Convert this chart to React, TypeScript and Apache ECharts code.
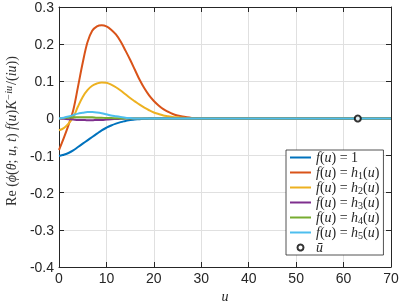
import React, { useEffect, useRef } from "react";
import * as echarts from "echarts";

const uValues = [0,1,2,3,4,5,6,7,8,9,10,11,12,13,14,15,16,17,18,19,20,21,22,23,24,25,26,27,28,29,30,70];

const seriesF1 = [-0.101,-0.098,-0.093,-0.086,-0.077,-0.068,-0.059,-0.05,-0.041,-0.032,-0.025,-0.019,-0.014,-0.01,-0.007,-0.004,-0.003,-0.002,-0.001,-0.0005,0,0,0,0,0,0,0,0,0,0,0,0];
const seriesH1 = [-0.085,-0.053,-0.018,0.022,0.085,0.15,0.205,0.236,0.248,0.251,0.248,0.239,0.226,0.207,0.183,0.158,0.131,0.104,0.081,0.062,0.047,0.035,0.025,0.018,0.012,0.008,0.005,0.003,0.0015,0.0005,0,0];
const seriesH2 = [-0.032,-0.026,-0.014,0.003,0.032,0.058,0.076,0.088,0.094,0.097,0.096,0.091,0.084,0.075,0.065,0.055,0.046,0.037,0.029,0.022,0.016,0.012,0.008,0.006,0.004,0.003,0.002,0.001,0.0005,0,0,0];
const seriesH3 = [0,-0.001,-0.002,-0.003,-0.004,-0.004,-0.005,-0.005,-0.004,-0.004,-0.003,-0.002,-0.0015,-0.001,-0.0005,0,0,0,0,0,0,0,0,0,0,0,0,0,0,0,0,0];
const seriesH4 = [0,0.001,0.002,0.003,0.003,0.003,0.003,0.003,0.002,0.002,0.001,0.001,0.0005,0,0,0,0,0,0,0,0,0,0,0,0,0,0,0,0,0,0,0];
const seriesH5 = [0,0.002,0.005,0.009,0.013,0.015,0.017,0.017,0.016,0.014,0.011,0.008,0.006,0.004,0.002,0.001,0,0,0,0,0,0,0,0,0,0,0,0,0,0,0,0];

const uBar = [63];
const uBarValue = [0];

const seriesNames = ["f(u) = 1", "f(u) = h1(u)", "f(u) = h2(u)", "f(u) = h3(u)", "f(u) = h4(u)", "f(u) = h5(u)"];
const seriesValues = [seriesF1, seriesH1, seriesH2, seriesH3, seriesH4, seriesH5];
const colors = ["#0072BD", "#D95319", "#EDB120", "#7E2F8E", "#77AC30", "#4DBEEE"];
const markerName = "ū";

const xTicks = { min: 0, max: 70, interval: 10 };
const yTicks = { min: -0.4, max: 0.3, interval: 0.1 };

const AX = "#262626";

function legendLabel(name: string): string {
  if (name === "f(u) = 1") return "{i|f}{r|(}{i|u}{r|) = 1}";
  const m = name.match(/h(\d)/);
  if (m) return "{i|f}{r|(}{i|u}{r|) = }{i|h}{s|" + m[1] + "}{r|(}{i|u}{r|)}";
  if (name === markerName) return "{i|ū}";
  return name;
}

export default function App() {
  const ref = useRef<HTMLDivElement>(null);
  useEffect(() => {
    if (!ref.current) return;
    const chart = echarts.init(ref.current, undefined, { renderer: "svg" });
    const lineSeries = seriesValues.map((vals, k) => ({
      name: seriesNames[k],
      type: "line",
      data: uValues.map((u, i) => [u, vals[i]]),
      symbol: "none",
      smooth: 0.35,
      lineStyle: { width: 2, color: colors[k] },
      itemStyle: { color: colors[k] },
      z: 2 + k,
    }));
    const tickFmt = (v: number) => String(Math.round(v * 10) / 10);
    const serifRich = {
      i: { fontFamily: "Liberation Serif", fontStyle: "italic", fontSize: 14, color: AX, lineHeight: 15 },
      r: { fontFamily: "Liberation Serif", fontStyle: "normal", fontSize: 14, color: AX, lineHeight: 15 },
      s: { fontFamily: "Liberation Serif", fontStyle: "normal", fontSize: 10, color: AX, lineHeight: 10, verticalAlign: "bottom", padding: [4, 0, 0, 0] },
    };
    const legendData = [
      ...seriesNames.map((n, k) => ({
        name: n,
        icon: "path://M0,0L21,0L21,2L0,2Z",
        itemStyle: { color: colors[k], borderWidth: 0 },
      })),
      { name: markerName, icon: "circle", itemStyle: { color: "#fff", borderColor: "#000", borderWidth: 2 } },
    ];
    chart.setOption({
      animation: false,
      grid: { left: 59, right: 8, top: 7, bottom: 36, containLabel: false, outerBoundsMode: "none" },
      xAxis: [
        {
          type: "value",
          min: xTicks.min, max: xTicks.max, interval: xTicks.interval,
          position: "bottom",
          name: "u",
          nameLocation: "middle",
          nameGap: 18,
          nameTextStyle: { fontFamily: "Liberation Serif", fontStyle: "italic", fontSize: 14, color: AX, verticalAlign: "top" },
          axisLine: { show: true, onZero: false, lineStyle: { color: AX, width: 1 } },
          axisTick: { show: true, inside: true, length: 5, lineStyle: { color: AX } },
          axisLabel: { color: AX, fontFamily: "Liberation Sans", fontSize: 14, margin: 4 },
          splitLine: { show: true, lineStyle: { color: "#e0e0e0", width: 1 } },
        },
        {
          type: "value",
          min: xTicks.min, max: xTicks.max, interval: xTicks.interval,
          position: "top",
          axisLine: { show: true, onZero: false, lineStyle: { color: AX, width: 1 } },
          axisTick: { show: true, inside: true, length: 5, lineStyle: { color: AX } },
          axisLabel: { show: false },
          splitLine: { show: false },
        },
      ],
      yAxis: [
        {
          type: "value",
          min: yTicks.min, max: yTicks.max, interval: yTicks.interval,
          position: "left",
          name: "{r|Re }{r|(}{i|ϕ}{r|(}{i|θ}{r|; }{i|u}{r|, }{i|t}{r|) }{i|f}{r|(}{i|u}{r|)}{i|K}{sup|−iu}{r|/(}{i|iu}{r|))}",
          nameLocation: "middle",
          nameGap: 40,
          nameTextStyle: {
            padding: [0, 0, 0, 12],
            rich: {
              i: { fontFamily: "Liberation Serif", fontStyle: "italic", fontSize: 14, color: "#333" },
              r: { fontFamily: "Liberation Serif", fontStyle: "normal", fontSize: 14, color: "#333" },
              sup: { fontFamily: "Liberation Serif", fontStyle: "italic", fontSize: 10, color: "#333", verticalAlign: "top", padding: [0, 1, 6, 0] },
            },
          },
          axisLine: { show: true, onZero: false, lineStyle: { color: AX, width: 1 } },
          axisTick: { show: true, inside: true, length: 5, lineStyle: { color: AX } },
          axisLabel: { color: AX, fontFamily: "Liberation Sans", fontSize: 14, margin: 5, formatter: tickFmt },
          splitLine: { show: true, lineStyle: { color: "#e0e0e0", width: 1 } },
        },
        {
          type: "value",
          min: yTicks.min, max: yTicks.max, interval: yTicks.interval,
          position: "right",
          axisLine: { show: true, onZero: false, lineStyle: { color: AX, width: 1 } },
          axisTick: { show: true, inside: true, length: 5, lineStyle: { color: AX } },
          axisLabel: { show: false },
          splitLine: { show: false },
        },
      ],
      legend: {
        orient: "vertical",
        left: 286,
        top: 150,
        padding: [0, 4, 0, 4],
        itemGap: 0,
        itemWidth: 21,
        itemHeight: 6,
        borderColor: AX,
        borderWidth: 0.8,
        backgroundColor: "#fff",
        data: legendData,
        formatter: legendLabel,
        textStyle: { fontSize: 14, lineHeight: 15, color: AX, rich: serifRich },
      },
      series: [
        ...lineSeries,
        {
          name: markerName,
          type: "scatter",
          data: uBar.map((u, i) => [u, uBarValue[i]]),
          symbol: "circle",
          symbolSize: 6,
          itemStyle: { color: "#fff", borderColor: "#000", borderWidth: 2 },
          z: 10,
        },
      ],
    });
    return () => chart.dispose();
  }, []);
  return <div ref={ref} style={{ position: "fixed", left: 0, top: 0, width: 399, height: 303 }} />;
}
